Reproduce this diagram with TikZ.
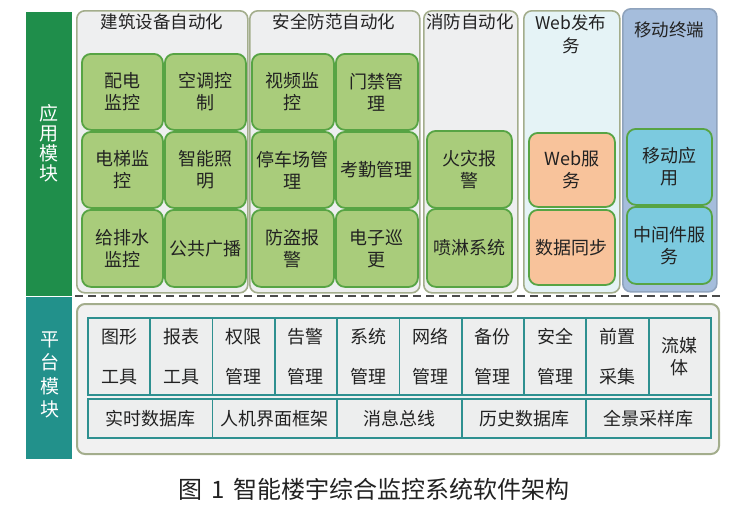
\documentclass[tikz,border=0pt]{standalone}
\usepackage{fontspec}
\setmainfont{Noto Sans CJK SC}
\definecolor{barG}{HTML}{1F8E4B}
\definecolor{barT}{HTML}{22918B}
\definecolor{grpf}{HTML}{EEEFF0}
\definecolor{grpb}{HTML}{A3AD8C}
\definecolor{cellf}{HTML}{A9CC7B}
\definecolor{cellb}{HTML}{57A444}
\definecolor{webf}{HTML}{E5F3F6}
\definecolor{mobf}{HTML}{A5BDDC}
\definecolor{mobb}{HTML}{8FA3BD}
\definecolor{orf}{HTML}{F8C39B}
\definecolor{blf}{HTML}{7CCADF}
\definecolor{platf}{HTML}{EDEEEE}
\definecolor{platb}{HTML}{2E9090}
\definecolor{txt}{HTML}{222222}
\newcommand\mkcell[7]{\node[#1, anchor=north west, minimum width=#5, minimum height=#6] (#2) at (#3,#4) {#7};}
\begin{document}
\begin{tikzpicture}[x=1pt,y=-1pt,
  grp/.style={draw=grpb, line width=1.6pt, rounded corners=8pt, fill=grpf, inner sep=0pt},
  cell/.style={draw=cellb, line width=1.8pt, rounded corners=9pt, fill=cellf, inner sep=0pt,
     text=txt, align=center, font=\fontsize{18}{22}\selectfont},
  ocell/.style={cell, fill=orf},
  bcell/.style={cell, fill=blf},
  pcell/.style={draw=platb, line width=1.8pt, fill=platf, inner sep=0pt, text=txt,
     align=center, font=\fontsize{18}{40}\selectfont},
  qcell/.style={pcell, font=\fontsize{18}{22}\selectfont},
  gtitle/.style={text=txt, font=\fontsize{17.5}{23}\selectfont, align=center, inner sep=0pt},
  sidelbl/.style={text=white, align=center, inner sep=0pt},
  bar/.style={anchor=north west, inner sep=0pt, minimum width=46pt}
]
\fill[white] (0,0) rectangle (738,512);
\useasboundingbox (0,0) rectangle (738,512);

% side bars
\node[bar, fill=barG, minimum height=284pt] (appbar) at (26,12) {};
\node[bar, fill=barT, minimum height=162pt] (platbar) at (26,297) {};
\node[sidelbl, font=\fontsize{19}{20}\selectfont] (applbl) at (49,143) {应\\用\\模\\块};
\node[sidelbl, font=\fontsize{19}{23.5}\selectfont] (platlbl) at (50,375) {平\\台\\模\\块};

% application groups
\node[grp, anchor=north west, minimum width=171pt, minimum height=282pt] (g1) at (76,10) {};
\node[grp, anchor=north west, minimum width=170pt, minimum height=282pt] (g2) at (249,10) {};
\node[grp, anchor=north west, minimum width=94pt, minimum height=282pt] (g3) at (423,10) {};
\node[grp, fill=webf, anchor=north west, minimum width=96pt, minimum height=282pt] (g4) at (523,10) {};
\node[grp, fill=mobf, draw=mobb, anchor=north west, minimum width=94pt, minimum height=283pt] (g5) at (622,8) {};

\node[gtitle] (t1) at (162,22) {建筑设备自动化};
\node[gtitle] (t2) at (334,22) {安全防范自动化};
\node[gtitle] (t3) at (470,22) {消防自动化};
\node[gtitle] (t4) at (571,34) {Web发布\\务};
\node[gtitle] (t5) at (669,30) {移动终端};

% group 1
\mkcell{cell}{a1}{81}{53}{81}{76}{配电\\监控}
\mkcell{cell}{a2}{164}{53}{81}{76}{空调控\\制}
\mkcell{cell}{a3}{81}{131}{81}{76}{电梯监\\控}
\mkcell{cell}{a4}{164}{131}{81}{76}{智能照\\明}
\mkcell{cell}{a5}{81}{209}{81}{77}{给排水\\监控}
\mkcell{cell}{a6}{164}{209}{81}{77}{公共广播}
% group 2
\mkcell{cell}{b1}{251}{53}{82}{76}{视频监\\控}
\mkcell{cell}{b2}{335}{53}{82}{76}{门禁管\\理}
\mkcell{cell}{b3}{251}{131}{82}{76}{停车场管\\理}
\mkcell{cell}{b4}{335}{131}{82}{76}{考勤管理}
\mkcell{cell}{b5}{251}{209}{82}{77}{防盗报\\警}
\mkcell{cell}{b6}{335}{209}{82}{77}{电子巡\\更}
% group 3
\mkcell{cell}{c1}{426}{130}{85}{77}{火灾报\\警}
\mkcell{cell}{c2}{426}{208}{85}{78}{喷淋系统}
% group 4
\mkcell{ocell}{d1}{528}{132}{86}{74}{Web服\\务}
\mkcell{ocell}{d2}{528}{209}{86}{75}{数据同步}
% group 5
\mkcell{bcell}{e1}{626}{128}{85}{76}{移动应\\用}
\mkcell{bcell}{e2}{626}{206}{85}{77}{中间件服\\务}

% dashed separator
\coordinate (dL) at (75,296);
\coordinate (dR) at (722,296);
\draw[color=black!70, line width=2pt, dash pattern=on 8pt off 5pt] (dL) -- (dR);

% platform
\node[grp, fill=platf!80!white, line width=2pt, anchor=north west, minimum width=642pt, minimum height=150pt] (pbox) at (76,303) {};
\foreach \t [count=\i] in {图形\\工具, 报表\\工具, 权限\\管理, 告警\\管理, 系统\\管理, 网络\\管理, 备份\\管理, 安全\\管理, 前置\\采集}{
  \pgfmathsetmacro\xx{87+(\i-1)*62.3}
  \mkcell{pcell}{p\i}{\xx}{317}{62.3}{77}{\t}
}
\mkcell{qcell}{p10}{647.7}{317}{62.3}{77}{流媒\\体}
\foreach \t [count=\i] in {实时数据库, 人机界面框架, 消息总线, 历史数据库, 全景采样库}{
  \pgfmathsetmacro\xx{87+(\i-1)*124.6}
  \mkcell{qcell}{q\i}{\xx}{398}{124.6}{39}{\t}
}

% caption
\node[text=txt, font=\fontsize{24}{28}\selectfont] (cap) at (374,489) {图\hspace{0.35em}1\hspace{0.35em}智能楼宇综合监控系统软件架构};
\end{tikzpicture}
\end{document}
